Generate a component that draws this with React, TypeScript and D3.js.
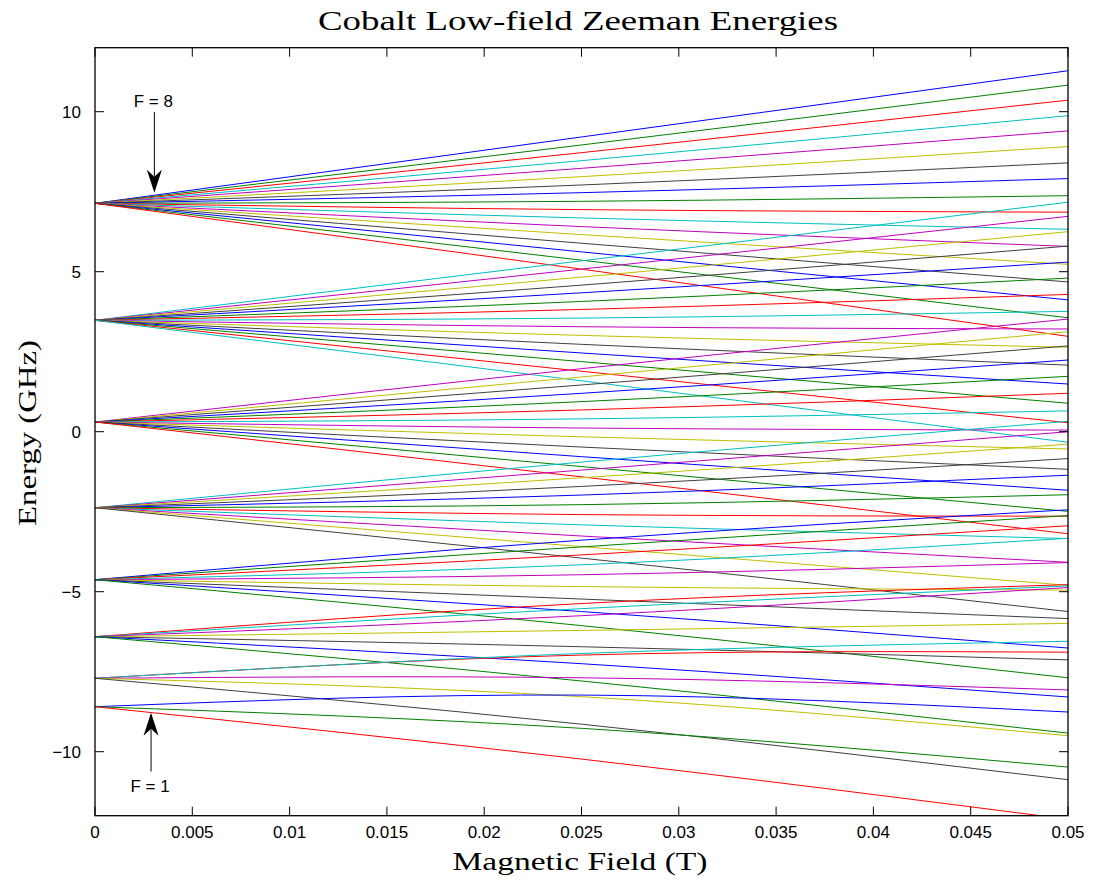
import React from "react";
import * as d3 from "d3";

// Magnetic field sample points (T)
const B_FIELD = [0, 0.025, 0.05];

// Hyperfine levels F (plotted in this order, mF from +F down to -F)
const F_LEVELS = [8, 7, 6, 5, 4, 3, 2, 1];

// Zero-field energies (GHz) for each F
const ZERO_FIELD = [7.137, 3.481, 0.303, -2.375, -4.625, -6.406, -7.706, -8.594];

// Energies at B = 0.025 T and B = 0.05 T, mF = +F ... -F
const F8_MID = [9.21, 8.96, 8.72, 8.47, 8.23, 7.97, 7.71, 7.47, 7.2, 6.94, 6.68, 6.41, 6.16, 5.89, 5.62, 5.36, 5.08];
const F8_END = [11.28, 10.83, 10.36, 9.875, 9.4, 8.91, 8.4, 7.91, 7.375, 6.86, 6.325, 5.79, 5.23, 4.68, 4.12, 3.56, 2.98];
const F7_MID = [5.34, 5.08, 4.83, 4.58, 4.34, 4.07, 3.82, 3.55, 3.28, 3.01, 2.73, 2.46, 2.19, 1.89, 1.59];
const F7_END = [7.17, 6.73, 6.25, 5.8, 5.3, 4.8, 4.29, 3.76, 3.21, 2.64, 2.08, 1.49, 0.89, 0.28, -0.33];
const F6_MID = [1.97, 1.71, 1.46, 1.2, 0.94, 0.68, 0.4, 0.115, -0.16, -0.48, -0.78, -1.09, -1.41];
const F6_END = [3.52, 3.125, 2.68, 2.24, 1.73, 1.2, 0.65, 0.05, -0.54, -1.175, -1.83, -2.49, -3.19];
const F5_MID = [-0.95, -1.2, -1.44, -1.71, -1.98, -2.28, -2.59, -2.91, -3.26, -3.59, -3.95];
const F5_END = [0.325, 0.0, -0.39, -0.84, -1.36, -1.97, -2.64, -3.34, -4.08, -4.8, -5.62];
const F4_MID = [-3.39, -3.6, -3.85, -4.16, -4.47, -4.84, -5.23, -5.62, -6.06];
const F4_END = [-2.44, -2.62, -2.94, -3.33, -4.09, -4.95, -5.84, -6.76, -7.69];
const F3_MID = [-5.37, -5.53, -5.75, -6.21, -6.72, -7.25, -7.79];
const F3_END = [-4.78, -4.82, -4.87, -5.99, -7.13, -8.29, -9.42];
const F2_MID = [-6.98, -6.93, -7.69, -8.28, -9.14];
const F2_END = [-6.89, -6.55, -8.07, -9.5, -10.875];
const F1_MID = [-8.23, -9.27, -10.23];
const F1_END = [-8.76, -10.48, -12.11];

const MID_BY_F = [F8_MID, F7_MID, F6_MID, F5_MID, F4_MID, F3_MID, F2_MID, F1_MID];
const END_BY_F = [F8_END, F7_END, F6_END, F5_END, F4_END, F3_END, F2_END, F1_END];

// Axis ticks
const X_TICKS = [0, 0.005, 0.01, 0.015, 0.02, 0.025, 0.03, 0.035, 0.04, 0.045, 0.05];
const X_TICK_LABELS = ["0", "0.005", "0.01", "0.015", "0.02", "0.025", "0.03", "0.035", "0.04", "0.045", "0.05"];
const Y_TICKS = [-10, -5, 0, 5, 10];
const Y_TICK_LABELS = ["\u221210", "\u22125", "0", "5", "10"];

// MATLAB classic colour order
const COLOR_ORDER = ["#0000ff", "#008000", "#ff0000", "#00bfbf", "#bf00bf", "#bfbf00", "#404040"];

// Annotations (data coordinates)
const ANNOTATIONS = [
  { label: "F = 8", x: 0.00305, tail: 9.99, tip: 7.47, textY: 10.15 },
  { label: "F = 1", x: 0.00288, tail: -10.62, tip: -8.78, textY: -11.25 },
];

const W = 1096;
const H = 884;
const LEFT = 95;
const RIGHT = 1068;
const TOP = 47.7;
const BOTTOM = 815.7;

export default function App() {
  const x = d3.scaleLinear().domain([0, 0.05]).range([LEFT, RIGHT]);
  const y = d3.scaleLinear().domain([-12, 12]).range([BOTTOM, TOP]);

  const lineGen = d3
    .line<[number, number]>()
    .x((d) => x(d[0]))
    .y((d) => y(d[1]))
    .curve(d3.curveNatural);

  const series: { d: string; color: string; key: string }[] = [];
  let idx = 0;
  F_LEVELS.forEach((F, fi) => {
    const mids = MID_BY_F[fi];
    const ends = END_BY_F[fi];
    for (let k = 0; k < mids.length; k++) {
      const vals = [ZERO_FIELD[fi], mids[k], ends[k]];
      const pts = B_FIELD.map((b, i) => [b, vals[i]] as [number, number]);
      series.push({ d: lineGen(pts) || "", color: COLOR_ORDER[idx % 7], key: `F${F}m${F - k}` });
      idx++;
    }
  });

  const tickLen = 9;
  const sans = "'Liberation Sans', Arial, Helvetica, sans-serif";
  const serif = "'Liberation Serif', 'DejaVu Serif', serif";

  return (
    <svg width={W} height={H} style={{ position: "absolute", left: 0, top: 0, background: "#fff" }}>
      <defs>
        <clipPath id="plotClip">
          <rect x={LEFT} y={TOP} width={RIGHT - LEFT} height={BOTTOM - TOP} />
        </clipPath>
      </defs>
      <rect x={0} y={0} width={W} height={H} fill="#fff" />

      <g clipPath="url(#plotClip)">
        {series.map((s) => (
          <path key={s.key} d={s.d} fill="none" stroke={s.color} strokeWidth={1} />
        ))}
      </g>

      {/* frame */}
      <rect x={LEFT} y={TOP} width={RIGHT - LEFT} height={BOTTOM - TOP} fill="none" stroke="#000" strokeWidth={1.3} />

      {/* x ticks */}
      {X_TICKS.map((t, i) => (
        <g key={"xt" + i}>
          <line x1={x(t)} x2={x(t)} y1={BOTTOM} y2={BOTTOM - tickLen} stroke="#000" strokeWidth={1} />
          <line x1={x(t)} x2={x(t)} y1={TOP} y2={TOP + tickLen} stroke="#000" strokeWidth={1} />
          <text x={x(t)} y={838} textAnchor="middle" fontFamily={sans} fontSize={17} fill="#000">
            {X_TICK_LABELS[i]}
          </text>
        </g>
      ))}

      {/* y ticks */}
      {Y_TICKS.map((t, i) => (
        <g key={"yt" + i}>
          <line x1={LEFT} x2={LEFT + tickLen} y1={y(t)} y2={y(t)} stroke="#000" strokeWidth={1} />
          <line x1={RIGHT} x2={RIGHT - tickLen} y1={y(t)} y2={y(t)} stroke="#000" strokeWidth={1} />
          <text x={81} y={y(t) + 6} textAnchor="end" fontFamily={sans} fontSize={17} fill="#000">
            {Y_TICK_LABELS[i]}
          </text>
        </g>
      ))}

      {/* annotations */}
      {ANNOTATIONS.map((a, i) => {
        const ax = x(a.x);
        const tipY = y(a.tip);
        const tailY = y(a.tail);
        const dir = tipY > tailY ? 1 : -1;
        const headL = 23;
        const headW = 7.5;
        const notch = 16;
        const head = `M${ax},${tipY} L${ax - headW},${tipY - dir * headL} L${ax},${tipY - dir * notch} L${ax + headW},${tipY - dir * headL} Z`;
        return (
          <g key={"ann" + i}>
            <line x1={ax} x2={ax} y1={tailY} y2={tipY - dir * notch} stroke="#000" strokeWidth={1} />
            <path d={head} fill="#000" />
            <text x={ax - 1} y={y(a.textY)} textAnchor="middle" fontFamily={sans} fontSize={17} fill="#000">
              {a.label}
            </text>
          </g>
        );
      })}

      {/* title & axis labels */}
      <text x={578} y={30} textAnchor="middle" fontFamily={serif} fontSize={28} textLength={520} lengthAdjust="spacingAndGlyphs" fill="#000">
        Cobalt Low-field Zeeman Energies
      </text>
      <text x={580} y={870} textAnchor="middle" fontFamily={serif} fontSize={25} textLength={255} lengthAdjust="spacingAndGlyphs" fill="#000">
        Magnetic Field (T)
      </text>
      <text
        transform={`translate(36,${433}) rotate(-90)`}
        textAnchor="middle"
        fontFamily={serif}
        fontSize={25}
        textLength={186}
        lengthAdjust="spacingAndGlyphs"
        fill="#000"
      >
        Energy (GHz)
      </text>
    </svg>
  );
}
